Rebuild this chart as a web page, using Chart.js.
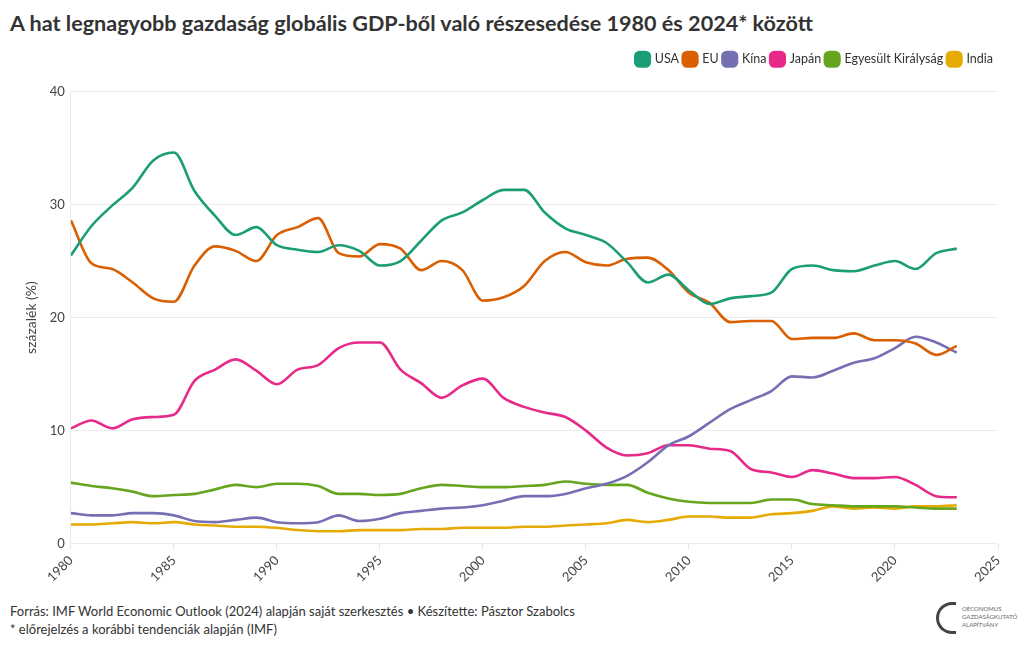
<!DOCTYPE html>
<html>
<head>
<meta charset="utf-8">
<script src="https://cdn.jsdelivr.net/npm/chart.js@4.4.1/dist/chart.umd.min.js"></script>
<style>
  html, body { margin: 0; padding: 0; background: #fff; }
  body { width: 1020px; height: 650px; position: relative; overflow: hidden; font-family: Lato, "Noto Sans", sans-serif; color: #333; }
  #title { position: absolute; left: 10px; top: 10px; font-size: 21.6px; font-weight: 700; color: #333; white-space: nowrap; }
  #wrap { position: absolute; left: 0; top: 48px; width: 1020px; height: 540px; }
  #footer { position: absolute; left: 10px; top: 602px; font-size: 13px; line-height: 18px; color: #333; }
  #logo { position: absolute; left: 936px; top: 602px; width: 80px; height: 34px; }
  #logo .mark { position: absolute; left: 0; top: 0; width: 20px; height: 32px; border: 3px solid #444; border-right: none; border-radius: 16px 0 0 16px; box-sizing: border-box; }
  #logo .txt { position: absolute; left: 26px; top: 3px; font-size: 6px; line-height: 8px; color: #666; }
</style>
</head>
<body>
<div id="title">A hat legnagyobb gazdaság globális GDP-ből való részesedése 1980 és 2024* között</div>
<div id="wrap"><canvas id="chart"></canvas></div>
<div id="footer">Forrás: IMF World Economic Outlook (2024) alapján saját szerkesztés • Készítette: Pásztor Szabolcs<br>* előrejelzés a korábbi tendenciák alapján (IMF)</div>
<div id="logo"><div class="mark"></div><div class="txt">OECONOMUS<br>GAZDASÁGKUTATÓ<br>ALAPÍTVÁNY</div></div>
<script>
// évek és sorozatok (százalék)
const years = [1980,1981,1982,1983,1984,1985,1986,1987,1988,1989,1990,1991,1992,1993,1994,1995,1996,1997,1998,1999,
  2000,2001,2002,2003,2004,2005,2006,2007,2008,2009,2010,2011,2012,2013,2014,2015,2016,2017,2018,2019,2020,2021,2022,2023];

const usa = [25.5,28.1,29.9,31.5,33.9,34.6,31.2,29.0,27.3,28.0,26.4,26.0,25.8,26.4,25.9,24.6,25.0,26.8,28.6,29.3,
  30.4,31.3,31.3,29.3,27.9,27.3,26.6,24.9,23.1,23.8,22.4,21.2,21.7,21.9,22.2,24.3,24.6,24.2,24.1,24.6,25.0,24.3,25.7,26.1];
const eu = [28.6,24.8,24.3,23.1,21.7,21.4,24.6,26.3,25.9,25.0,27.3,28.0,28.8,25.7,25.4,26.5,26.1,24.2,25.0,24.2,
  21.5,21.8,22.8,25.0,25.8,24.9,24.6,25.2,25.3,24.2,22.2,21.3,19.6,19.7,19.7,18.1,18.2,18.2,18.6,18.0,18.0,17.7,16.7,17.5];
const china = [2.7,2.5,2.5,2.7,2.7,2.5,2.0,1.9,2.1,2.3,1.9,1.8,1.9,2.5,2.0,2.2,2.7,2.9,3.1,3.2,
  3.4,3.8,4.2,4.2,4.4,4.9,5.3,6.0,7.2,8.7,9.5,10.7,11.9,12.7,13.5,14.8,14.7,15.3,16.0,16.4,17.3,18.3,17.8,16.9];
const japan = [10.2,10.9,10.2,11.0,11.2,11.4,14.4,15.4,16.3,15.3,14.1,15.4,15.8,17.3,17.8,17.8,15.4,14.2,12.9,14.0,
  14.6,12.9,12.1,11.6,11.2,10.0,8.5,7.8,8.0,8.7,8.7,8.4,8.2,6.6,6.3,5.9,6.5,6.2,5.8,5.8,5.9,5.2,4.2,4.1];
const uk = [5.4,5.1,4.9,4.6,4.2,4.3,4.4,4.8,5.2,5.0,5.3,5.3,5.1,4.4,4.4,4.3,4.4,4.9,5.2,5.1,
  5.0,5.0,5.1,5.2,5.5,5.3,5.2,5.2,4.5,4.0,3.7,3.6,3.6,3.6,3.9,3.9,3.5,3.4,3.3,3.3,3.3,3.2,3.1,3.1];
const india = [1.7,1.7,1.8,1.9,1.8,1.9,1.7,1.6,1.5,1.5,1.4,1.2,1.1,1.1,1.2,1.2,1.2,1.3,1.3,1.4,
  1.4,1.4,1.5,1.5,1.6,1.7,1.8,2.1,1.9,2.1,2.4,2.4,2.3,2.3,2.6,2.7,2.9,3.3,3.1,3.2,3.1,3.3,3.3,3.4];

const seriesNames = ['USA', 'EU', 'Kína', 'Japán', 'Egyesült Királyság', 'India'];
const seriesValues = [usa, eu, china, japan, uk, india];
const seriesColors = ['#1b9e77', '#d95f02', '#7570b3', '#e7298a', '#66a61e', '#e6ab02'];

const xTicks = [1980, 1985, 1990, 1995, 2000, 2005, 2010, 2015, 2020, 2025];
const yTicks = [0, 10, 20, 30, 40];

// a rajzolás sorrendje: India alul, USA felül
const datasets = seriesNames.map((name, i) => ({
  label: name,
  data: years.map((yr, j) => ({ x: yr, y: seriesValues[i][j] })),
  borderColor: seriesColors[i],
  backgroundColor: seriesColors[i],
  borderWidth: 2.6,
  pointRadius: 0,
  cubicInterpolationMode: 'monotone',
  order: i,
}));

// hely a jelmagyarázat és a rajzterület között
const legendGap = {
  id: 'legendGap',
  beforeInit(chart) {
    const fit = chart.legend.fit;
    chart.legend.fit = function () {
      fit.bind(chart.legend)();
      this.height += 16;
    };
  }
};

Chart.defaults.font.family = 'Lato, "Noto Sans", sans-serif';

new Chart(document.getElementById('chart'), {
  type: 'line',
  data: { datasets },
  options: {
    responsive: true,
    maintainAspectRatio: false,
    animation: false,
    layout: { padding: { left: 19, right: 22, top: 0, bottom: 0 } },
    plugins: {
      tooltip: { enabled: false },
      legend: {
        position: 'top',
        align: 'end',
        labels: {
          usePointStyle: true,
          pointStyle: 'rectRounded',
          boxWidth: 12,
          boxHeight: 12,
          padding: 5,
          color: '#333',
          font: { size: 12.5 },
        },
      },
    },
    scales: {
      x: {
        type: 'linear',
        min: 1980,
        max: 2025,
        afterBuildTicks: axis => { axis.ticks = xTicks.map(v => ({ value: v })); },
        ticks: {
          minRotation: 45,
          maxRotation: 45,
          color: '#444',
          font: { size: 13 },
          callback: v => String(v),
        },
        grid: { drawOnChartArea: false, tickLength: 6, color: '#e6e6e6' },
        border: { display: false },
      },
      y: {
        min: 0,
        max: 40,
        afterBuildTicks: axis => { axis.ticks = yTicks.map(v => ({ value: v })); },
        title: { display: true, text: 'százalék (%)', color: '#444', font: { size: 14 } },
        ticks: { color: '#444', font: { size: 13 }, padding: 6 },
        grid: { color: '#ebebeb', drawTicks: false },
        border: { display: true, color: '#ebebeb' },
      },
    },
  },
  plugins: [legendGap],
});
</script>
</body>
</html>
